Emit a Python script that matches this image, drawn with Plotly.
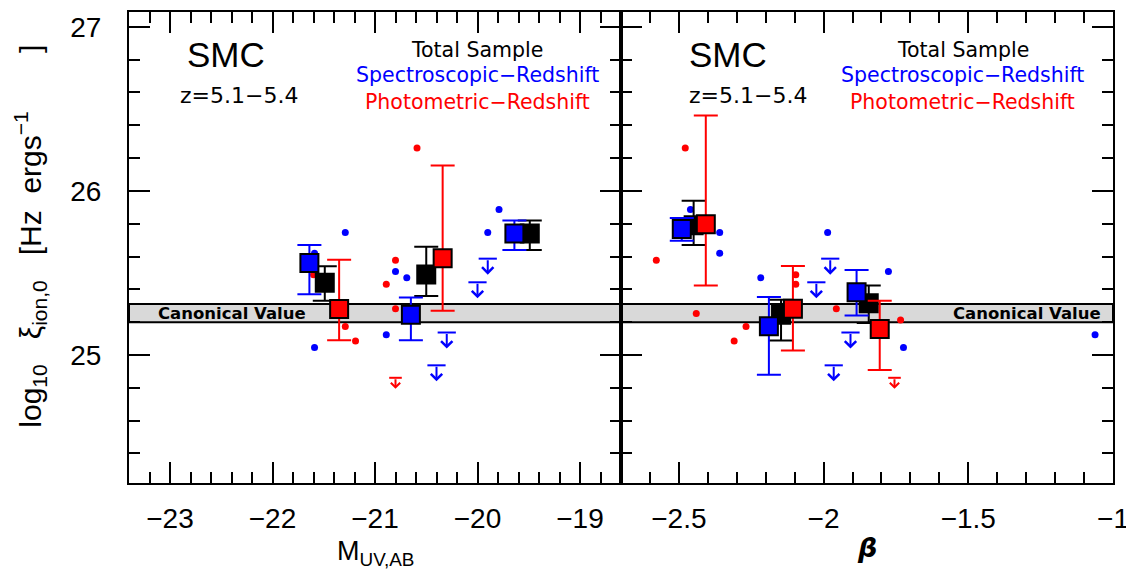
import plotly.graph_objects as go

# ---------------- data ----------------
# Binned means vs M_UV (left panel)
tot_M = [-21.49, -20.50, -19.49]
tot_M_xi = [25.44, 25.49, 25.74]
tot_M_hi = [25.54, 25.66, 25.82]
tot_M_lo = [25.33, 25.36, 25.64]

spec_M = [-21.64, -20.65, -19.64]
spec_M_xi = [25.56, 25.245, 25.74]
spec_M_hi = [25.67, 25.35, 25.82]
spec_M_lo = [25.37, 25.09, 25.64]

phot_M = [-21.35, -20.34]
phot_M_xi = [25.28, 25.59]
phot_M_hi = [25.58, 26.155]
phot_M_lo = [25.09, 25.27]

# Binned means vs beta (right panel)
tot_b = [-2.449, -2.147, -1.844]
tot_b_xi = [25.79, 25.245, 25.316]
tot_b_hi = [25.94, 25.336, 25.423]
tot_b_lo = [25.67, 25.088, 25.195]

spec_b = [-2.49, -2.189, -1.886]
spec_b_xi = [25.767, 25.175, 25.383]
spec_b_hi = [25.835, 25.353, 25.518]
spec_b_lo = [25.696, 24.88, 25.241]

phot_b = [-2.407, -2.106, -1.806]
phot_b_xi = [25.797, 25.282, 25.159]
phot_b_hi = [26.459, 25.542, 25.330]
phot_b_lo = [25.423, 25.027, 24.908]

# Individual galaxies (detections)
spec_gal_M = [-19.79, -21.29, -19.90, -21.59, -20.80, -20.69, -20.89, -21.59]
spec_gal_b = [-2.460, -2.359, -1.986, -2.359, -1.776, -2.217, -1.062, -1.724]
spec_gal_xi = [25.886, 25.747, 25.747, 25.620, 25.509, 25.470, 25.124, 25.045]

phot_gal_M = [-20.59, -20.80, -20.89, -20.80, -21.29, -21.19, -21.60, -21.36, -20.66]
phot_gal_b = [-2.478, -2.578, -2.096, -1.956, -2.268, -2.309, -2.096, -2.440, -1.734]
phot_gal_xi = [26.262, 25.578, 25.431, 25.282, 25.174, 25.085, 25.489, 25.253, 25.213]

# Upper limits
spec_lim_M = [-19.90, -20.00, -20.30, -20.40]
spec_lim_b = [-1.977, -2.025, -1.907, -1.965]
spec_lim_xi = [25.587, 25.443, 25.137, 24.937]

phot_lim_M = [-20.80]
phot_lim_b = [-1.755]
phot_lim_xi = [24.861]

canon_lo, canon_hi = 25.20, 25.31

# ---------------- figure ----------------
BLUE = "#0000ff"
RED = "#ff0000"
BLACK = "#000000"

fig = go.Figure()


def errs(xi, hi, lo):
    return [h - v for h, v in zip(hi, xi)], [v - l for v, l in zip(xi, lo)]


for xa, ya, gx_s, gx_p in [("x", "y", spec_gal_M, phot_gal_M), ("x2", "y2", spec_gal_b, phot_gal_b)]:
    fig.add_trace(go.Scatter(x=gx_s, y=spec_gal_xi, mode="markers", xaxis=xa, yaxis=ya,
                             marker=dict(color=BLUE, size=7), showlegend=False))
    fig.add_trace(go.Scatter(x=gx_p, y=phot_gal_xi, mode="markers", xaxis=xa, yaxis=ya,
                             marker=dict(color=RED, size=7), showlegend=False))

# upper limit caps
for xa, ya, lx_s, lx_p in [("x", "y", spec_lim_M, phot_lim_M), ("x2", "y2", spec_lim_b, phot_lim_b)]:
    fig.add_trace(go.Scatter(x=lx_s, y=spec_lim_xi, mode="markers", xaxis=xa, yaxis=ya,
                             marker=dict(symbol="line-ew", size=13, line=dict(color=BLUE, width=2)),
                             showlegend=False))
    fig.add_trace(go.Scatter(x=lx_p, y=phot_lim_xi, mode="markers", xaxis=xa, yaxis=ya,
                             marker=dict(symbol="line-ew", size=9, line=dict(color=RED, width=2)),
                             showlegend=False))

annotations = []
for xa, ya, lx_s, lx_p in [("x", "y", spec_lim_M, phot_lim_M), ("x2", "y2", spec_lim_b, phot_lim_b)]:
    for xv, yv in zip(lx_s, spec_lim_xi):
        annotations.append(dict(x=xv, y=yv, xref=xa, yref=ya, text="", showarrow=True,
                                ax=0, ay=-16, yshift=-16, arrowhead=4, arrowsize=1.1,
                                arrowwidth=2, arrowcolor=BLUE, standoff=0))
    for xv, yv in zip(lx_p, phot_lim_xi):
        annotations.append(dict(x=xv, y=yv, xref=xa, yref=ya, text="", showarrow=True,
                                ax=0, ay=-11, yshift=-11, arrowhead=4, arrowsize=0.9,
                                arrowwidth=2, arrowcolor=RED, standoff=0))

# binned means
sets = [
    ("x", "y", tot_M, tot_M_xi, tot_M_hi, tot_M_lo, BLACK),
    ("x", "y", spec_M, spec_M_xi, spec_M_hi, spec_M_lo, BLUE),
    ("x", "y", phot_M, phot_M_xi, phot_M_hi, phot_M_lo, RED),
    ("x2", "y2", tot_b, tot_b_xi, tot_b_hi, tot_b_lo, BLACK),
    ("x2", "y2", spec_b, spec_b_xi, spec_b_hi, spec_b_lo, BLUE),
    ("x2", "y2", phot_b, phot_b_xi, phot_b_hi, phot_b_lo, RED),
]
for xa, ya, xs, xi, hi, lo, col in sets:
    up, dn = errs(xi, hi, lo)
    fig.add_trace(go.Scatter(
        x=xs, y=xi, mode="markers", xaxis=xa, yaxis=ya, showlegend=False,
        marker=dict(symbol="square", size=18, color=col, line=dict(color=BLACK, width=2)),
        error_y=dict(type="data", symmetric=False, array=up, arrayminus=dn,
                     color=col, thickness=2, width=12)))

# canonical band
fig.add_shape(type="rect", xref="paper", x0=0, x1=1, yref="y", y0=canon_lo, y1=canon_hi,
              fillcolor="#d9d9d9", line=dict(color=BLACK, width=2), layer="below")

TXT = "DejaVu Sans"
for xd, yd, smc_x, z_x, leg_x, canon_x in [("x domain", "y domain", 0.114, 0.100, 0.708, 0.209),
                                           ("x2 domain", "y domain", 0.1335, 0.1335, 0.695, 0.826)]:
    annotations += [
        dict(x=smc_x, y=0.910, xref=xd, yref=yd, text="SMC", showarrow=False, xanchor="left",
             yanchor="middle", font=dict(family="Liberation Sans", size=35, color=BLACK)),
        dict(x=z_x, y=0.822, xref=xd, yref=yd, text="z=5.1−5.4", showarrow=False, xanchor="left",
             yanchor="middle", font=dict(family=TXT, size=22, color=BLACK)),
        dict(x=leg_x, y=0.9186, xref=xd, yref=yd, text="Total Sample", showarrow=False,
             xanchor="center", yanchor="middle", font=dict(family=TXT, size=20.5, color=BLACK)),
        dict(x=leg_x, y=0.866, xref=xd, yref=yd, text="Spectroscopic−Redshift", showarrow=False,
             xanchor="center", yanchor="middle", font=dict(family=TXT, size=20.5, color=BLUE)),
        dict(x=leg_x, y=0.8097, xref=xd, yref=yd, text="Photometric−Redshift", showarrow=False,
             xanchor="center", yanchor="middle", font=dict(family=TXT, size=20.5, color=RED)),
        dict(x=canon_x, y=(canon_lo + canon_hi) / 2, xref=xd, yref="y", text="<b>Canonical Value</b>",
             showarrow=False, xanchor="center", yanchor="middle",
             font=dict(family=TXT, size=16.5, color=BLACK)),
    ]

# axis titles
SP = "&nbsp;"
annotations += [
    dict(x=-0.1006, y=0.523, xref="paper", yref="paper", textangle=-90, showarrow=False,
         text=("log<sub>10</sub>" + SP * 3 + "ξ<sub>ion,0</sub>" + SP * 3 + "[Hz" + SP * 2
               + "ergs<sup>−1</sup>" + SP * 7 + "]"),
         xanchor="center", yanchor="middle", font=dict(family="Liberation Sans", size=30, color=BLACK)),
    dict(x=0.25, y=-0.148, xref="paper", yref="paper", showarrow=False,
         text="M<sub>UV,AB</sub>", xanchor="center", yanchor="middle",
         font=dict(family="Liberation Sans", size=27, color=BLACK)),
    dict(x=0.75, y=-0.137, xref="paper", yref="paper", showarrow=False,
         text="<b><i>β</i></b>", xanchor="center", yanchor="middle",
         font=dict(family="DejaVu Sans", size=27, color=BLACK)),
]

axis_common = dict(showline=True, linecolor=BLACK, linewidth=2, mirror="allticks",
                   ticks="inside", ticklen=21, tickwidth=2, tickcolor=BLACK,
                   showgrid=False, zeroline=False,
                   tickfont=dict(family="Liberation Sans", size=28, color=BLACK))

# the page body adds an 8px offset; margins compensate so the frame sits at
# x 129..1113, y 10..483 on screen
fig.update_layout(
    width=1134, height=580,
    margin=dict(l=121, r=29, t=2, b=105),
    paper_bgcolor="white", plot_bgcolor="white",
    showlegend=False,
    xaxis=dict(domain=[0, 0.5], range=[-23.4, -18.6], dtick=1, tick0=0,
               minor=dict(ticks="inside", ticklen=11, tickwidth=2, tickcolor=BLACK, dtick=0.2),
               ticklabelstandoff=9, anchor="y", **axis_common),
    xaxis2=dict(domain=[0.5, 1], range=[-2.7, -1.0], dtick=0.5, tick0=0,
                minor=dict(ticks="inside", ticklen=11, tickwidth=2, tickcolor=BLACK, dtick=0.1),
                ticklabelstandoff=9, anchor="y2", **axis_common),
    yaxis=dict(domain=[0, 1], range=[24.22, 27.09], dtick=1, tick0=0,
               minor=dict(ticks="inside", ticklen=11, tickwidth=2, tickcolor=BLACK, dtick=0.2),
               ticklabelstandoff=20, anchor="x", **axis_common),
    yaxis2=dict(domain=[0, 1], range=[24.22, 27.09], dtick=1, tick0=0, matches="y",
                minor=dict(ticks="inside", ticklen=11, tickwidth=2, tickcolor=BLACK, dtick=0.2),
                showticklabels=False, anchor="x2", **axis_common),
    annotations=annotations,
)

fig.write_html("out.html")
